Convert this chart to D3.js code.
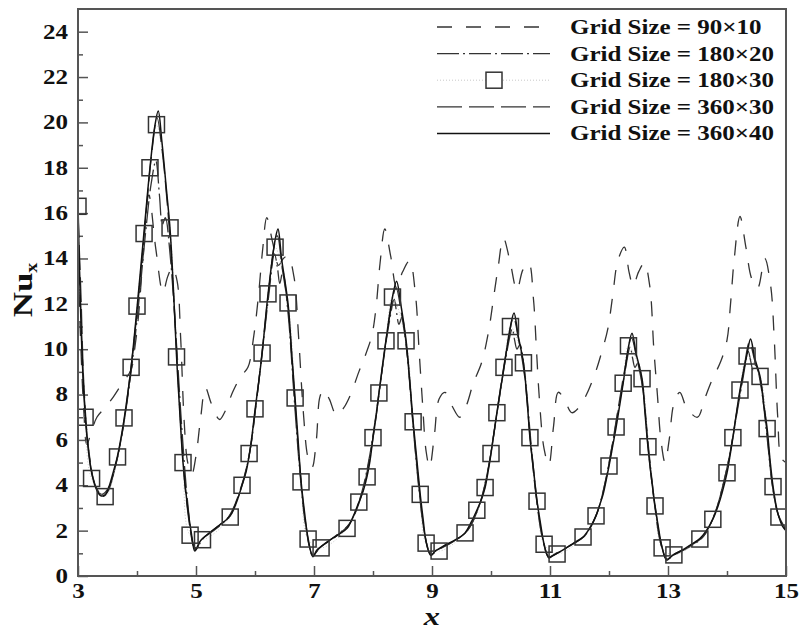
<!DOCTYPE html>
<html>
<head>
<meta charset="utf-8">
<script src="https://cdn.jsdelivr.net/npm/d3@7"></script>
<style>
  html, body { margin: 0; padding: 0; background: #fff; }
  svg { display: block; }
</style>
</head>
<body>
<svg id="chart" width="801" height="629"></svg>
<script>
// Local Nusselt number along the channel wall, five mesh resolutions.
// Each series: [x, Nu_x]

const seriesLabels = ["Grid Size = 90\u00d710", "Grid Size = 180\u00d720", "Grid Size = 180\u00d730",
                      "Grid Size = 360\u00d730", "Grid Size = 360\u00d740"];

const xMajorTicks = [3, 5, 7, 9, 11, 13, 15];
const xMinorTicks = [4, 6, 8, 10, 12, 14];
const yMajorTicks = [0, 2, 4, 6, 8, 10, 12, 14, 16, 18, 20, 22, 24];
const yMinorTicks = [1, 3, 5, 7, 9, 11, 13, 15, 17, 19, 21, 23];

const grid90x10 = [
  [3.00,13.8],[3.05,10.0],[3.10,7.2],[3.15,5.8],[3.22,6.3],[3.32,7.0],[3.45,7.4],[3.60,7.9],
  [3.75,8.5],[3.90,9.1],[3.97,10.2],[4.03,11.6],[4.10,14.0],[4.20,16.8],[4.32,14.4],[4.44,12.5],
  [4.52,13.2],[4.60,13.6],[4.68,13.0],[4.74,10.5],[4.80,6.8],[4.86,5.0],[4.93,4.5],
  [5.00,5.3],[5.08,7.0],[5.16,8.3],[5.26,7.6],[5.40,6.9],[5.50,7.3],[5.62,8.1],[5.76,8.8],
  [5.88,9.2],[5.98,10.6],[6.06,12.4],[6.13,14.4],[6.20,15.8],[6.30,14.7],[6.40,13.7],[6.48,14.0],
  [6.56,14.1],[6.66,13.2],[6.74,10.5],[6.82,7.2],[6.90,5.2],[6.97,4.8],
  [7.04,6.0],[7.10,7.9],[7.16,8.2],[7.26,7.8],[7.38,7.1],[7.50,7.4],[7.62,8.0],[7.76,9.0],
  [7.88,9.8],[7.98,10.6],[8.05,11.8],[8.12,13.8],[8.20,15.3],[8.30,14.1],[8.40,12.7],[8.50,13.4],
  [8.62,13.9],[8.72,12.4],[8.78,10.0],[8.84,7.6],[8.90,5.5],[8.96,4.8],
  [9.04,6.2],[9.12,7.8],[9.22,8.1],[9.34,7.5],[9.47,7.0],[9.58,7.5],[9.70,8.5],[9.84,9.4],
  [9.96,10.8],[10.04,12.2],[10.12,13.6],[10.21,14.9],[10.32,13.9],[10.44,12.6],[10.54,13.5],
  [10.64,13.8],[10.72,12.2],[10.77,10.0],[10.82,7.8],[10.90,5.6],[10.98,4.9],
  [11.06,6.6],[11.14,8.1],[11.24,7.8],[11.37,7.2],[11.48,7.4],[11.60,7.9],[11.76,8.9],[11.88,9.9],
  [11.98,10.9],[12.06,12.3],[12.15,13.9],[12.26,14.5],[12.34,13.4],[12.41,12.8],[12.50,13.4],
  [12.60,13.8],[12.69,12.8],[12.76,10.0],[12.82,8.0],[12.88,6.0],[12.95,5.0],
  [13.02,6.0],[13.10,7.6],[13.20,8.1],[13.32,7.4],[13.50,7.0],[13.62,7.8],[13.74,8.6],[13.90,9.5],
  [14.00,10.4],[14.06,12.0],[14.12,13.9],[14.22,15.85],[14.32,14.5],[14.42,13.1],[14.52,12.7],
  [14.64,14.0],[14.74,12.8],[14.80,10.5],[14.86,7.0],[14.92,5.2],[15.00,5.0]
];

const grid180x20 = [
  [3.00,15.2],[3.05,11.5],[3.10,8.2],[3.18,5.5],[3.28,4.1],[3.40,3.6],[3.52,3.9],[3.65,5.0],
  [3.78,6.8],[3.90,9.0],[4.02,11.8],[4.14,15.0],[4.24,17.3],[4.32,18.3],[4.38,16.8],[4.43,15.5],
  [4.48,15.8],[4.56,14.2],[4.66,10.6],[4.76,6.5],[4.86,3.2],[4.95,1.4],[5.00,1.2],
  [5.12,1.65],[5.35,2.1],[5.58,2.7],[5.78,4.0],[5.92,5.6],[6.02,7.6],[6.12,9.8],[6.23,12.3],
  [6.33,14.2],[6.38,13.6],[6.42,12.9],[6.47,13.4],[6.56,11.6],[6.66,8.0],[6.76,4.6],[6.86,2.2],[6.98,0.95],
  [7.12,1.3],[7.38,1.8],[7.60,2.3],[7.80,3.6],[7.95,5.4],[8.05,7.1],[8.15,9.0],[8.27,11.1],
  [8.36,12.2],[8.40,11.6],[8.44,11.1],[8.49,11.4],[8.58,9.7],[8.68,6.6],[8.78,3.8],[8.88,1.8],[8.98,1.0],
  [9.12,1.2],[9.38,1.55],[9.60,2.0],[9.80,3.1],[9.95,4.7],[10.05,6.3],[10.15,8.0],[10.27,9.9],
  [10.36,10.9],[10.40,10.4],[10.44,10.0],[10.49,10.2],[10.58,8.7],[10.68,5.8],[10.78,3.3],[10.88,1.6],[10.98,0.85],
  [11.12,1.0],[11.38,1.4],[11.60,1.8],[11.80,2.8],[11.95,4.3],[12.05,5.7],[12.15,7.2],[12.27,9.0],
  [12.36,10.1],[12.40,9.6],[12.44,9.2],[12.49,9.4],[12.58,8.1],[12.68,5.4],[12.78,3.1],[12.88,1.5],[12.98,0.75],
  [13.12,0.95],[13.38,1.3],[13.60,1.75],[13.80,2.8],[13.95,4.2],[14.05,5.4],[14.15,6.9],[14.27,8.7],
  [14.36,9.9],[14.40,9.5],[14.44,9.1],[14.49,9.3],[14.58,8.3],[14.68,6.1],[14.78,3.8],[14.88,2.6],[15.00,2.0]
];

const grid180x30 = [
  [3.00,16.3],[3.12,7.0],[3.23,4.3],[3.46,3.5],[3.67,5.25],[3.78,6.97],[3.90,9.2],[4.00,11.9],
  [4.12,15.1],[4.22,18.0],[4.33,19.9],[4.56,15.35],[4.67,9.66],[4.78,5.0],[4.90,1.8],
  [5.11,1.6],[5.58,2.6],[5.78,4.0],[5.90,5.4],[6.00,7.37],[6.12,9.83],[6.22,12.44],[6.34,14.5],
  [6.56,12.04],[6.68,7.85],[6.78,4.15],[6.90,1.63],
  [7.12,1.24],[7.56,2.1],[7.76,3.26],[7.90,4.37],[8.00,6.1],[8.10,8.07],[8.22,10.37],[8.33,12.3],
  [8.56,10.37],[8.68,6.8],[8.80,3.6],[8.90,1.45],
  [9.12,1.1],[9.56,1.9],[9.76,2.9],[9.90,3.9],[10.00,5.4],[10.10,7.2],[10.22,9.2],[10.33,11.0],
  [10.55,9.4],[10.66,6.1],[10.78,3.3],[10.90,1.4],
  [11.12,0.97],[11.56,1.72],[11.78,2.65],[12.00,4.85],[12.12,6.57],[12.24,8.5],[12.33,10.15],
  [12.56,8.7],[12.66,5.7],[12.78,3.09],[12.90,1.24],
  [13.10,0.93],[13.54,1.63],[13.76,2.5],[14.00,4.55],[14.10,6.1],[14.22,8.2],[14.34,9.7],
  [14.56,8.8],[14.68,6.5],[14.78,3.94],[14.88,2.6]
];

const grid360x30 = [
  [3.00,16.0],[3.05,12.4],[3.10,8.4],[3.18,5.6],[3.28,4.1],[3.40,3.5],[3.50,3.7],[3.62,4.7],
  [3.75,6.3],[3.88,8.8],[4.00,11.6],[4.12,15.0],[4.24,18.4],[4.34,20.2],[4.42,18.9],[4.52,16.2],
  [4.62,12.4],[4.72,7.6],[4.82,3.8],[4.92,1.8],[4.99,1.15],
  [5.10,1.6],[5.30,2.05],[5.55,2.6],[5.75,3.8],[5.90,5.3],[6.00,7.2],[6.10,9.4],[6.22,12.3],
  [6.33,14.6],[6.38,15.0],[6.46,13.6],[6.56,11.8],[6.66,8.3],[6.76,4.8],[6.86,2.3],[6.98,0.9],
  [7.10,1.25],[7.35,1.7],[7.60,2.3],[7.80,3.5],[7.95,5.3],[8.05,7.0],[8.15,9.0],[8.28,11.4],
  [8.39,12.7],[8.48,11.6],[8.58,9.8],[8.68,6.7],[8.78,3.9],[8.88,1.8],[8.98,0.95],
  [9.10,1.15],[9.35,1.5],[9.60,2.0],[9.80,3.1],[9.95,4.7],[10.05,6.3],[10.15,8.1],[10.28,10.2],
  [10.38,11.4],[10.47,10.4],[10.57,8.8],[10.67,5.9],[10.77,3.4],[10.87,1.7],[10.98,0.85],
  [11.10,1.0],[11.35,1.35],[11.60,1.8],[11.80,2.8],[11.95,4.3],[12.05,5.7],[12.15,7.3],[12.28,9.3],
  [12.38,10.5],[12.47,9.6],[12.57,8.3],[12.67,5.5],[12.77,3.2],[12.87,1.5],[12.98,0.75],
  [13.10,0.95],[13.35,1.3],[13.60,1.75],[13.80,2.8],[13.95,4.2],[14.05,5.4],[14.15,7.0],[14.28,9.0],
  [14.38,10.3],[14.47,9.5],[14.57,8.6],[14.67,6.5],[14.77,4.0],[14.87,2.7],[15.00,2.05]
];

const grid360x40 = [
  [3.00,16.4],[3.03,13.0],[3.06,10.4],[3.10,8.0],[3.15,6.2],[3.22,4.7],[3.30,3.9],[3.38,3.55],
  [3.45,3.55],[3.52,3.9],[3.60,4.6],[3.67,5.3],[3.75,6.4],[3.82,7.6],[3.90,9.2],[4.00,11.8],
  [4.12,15.2],[4.22,18.0],[4.30,19.8],[4.36,20.5],[4.42,19.2],[4.50,17.0],[4.56,15.3],[4.62,12.5],
  [4.67,9.7],[4.73,7.0],[4.78,5.0],[4.85,3.2],[4.92,1.9],[4.98,1.1],
  [5.05,1.45],[5.11,1.65],[5.25,1.95],[5.40,2.25],[5.58,2.65],[5.70,3.35],[5.78,4.0],[5.85,4.6],
  [5.90,5.3],[5.95,6.2],[6.00,7.3],[6.06,8.5],[6.12,9.8],[6.22,12.4],[6.34,14.8],[6.39,15.3],
  [6.45,14.0],[6.56,12.0],[6.62,9.9],[6.68,7.8],[6.73,6.0],[6.78,4.2],[6.84,2.8],[6.90,1.65],[6.98,0.85],
  [7.05,1.15],[7.12,1.3],[7.25,1.55],[7.40,1.8],[7.56,2.1],[7.66,2.6],[7.76,3.25],[7.84,3.8],
  [7.90,4.4],[7.95,5.1],[8.00,6.1],[8.05,7.0],[8.10,8.05],[8.22,10.4],[8.33,12.3],[8.40,13.0],
  [8.47,12.0],[8.56,10.4],[8.62,8.7],[8.68,6.8],[8.74,5.2],[8.80,3.6],[8.85,2.5],[8.90,1.5],[8.98,0.9],
  [9.05,1.1],[9.12,1.2],[9.25,1.4],[9.40,1.6],[9.56,1.9],[9.66,2.35],[9.76,2.9],[9.84,3.4],
  [9.90,3.9],[9.95,4.6],[10.00,5.4],[10.05,6.3],[10.10,7.2],[10.22,9.2],[10.33,11.0],[10.39,11.6],
  [10.46,10.6],[10.55,9.4],[10.61,7.8],[10.66,6.1],[10.72,4.7],[10.78,3.3],[10.84,2.3],[10.90,1.4],[10.98,0.8],
  [11.05,0.9],[11.12,1.0],[11.25,1.2],[11.40,1.45],[11.56,1.72],[11.67,2.1],[11.78,2.65],[11.85,3.2],
  [11.90,3.6],[11.95,4.2],[12.00,4.85],[12.06,5.7],[12.12,6.55],[12.24,8.5],[12.33,10.1],[12.39,10.7],
  [12.46,9.8],[12.56,8.7],[12.61,7.2],[12.66,5.7],[12.72,4.3],[12.78,3.1],[12.84,2.1],[12.90,1.25],[12.98,0.7],
  [13.05,0.85],[13.10,0.95],[13.25,1.15],[13.40,1.4],[13.54,1.65],[13.65,2.0],[13.76,2.5],[13.85,3.1],
  [13.92,3.7],[14.00,4.55],[14.05,5.3],[14.10,6.1],[14.22,8.2],[14.34,9.8],[14.40,10.45],[14.47,9.6],
  [14.56,8.8],[14.62,7.6],[14.68,6.5],[14.73,5.1],[14.78,3.95],[14.84,3.0],[14.88,2.6],[14.94,2.2],[15.00,2.0]
];

// ---- layout ----
const svg = d3.select("#chart");
const plot = { left: 78, right: 786, top: 9, bottom: 576 };
const x = d3.scaleLinear().domain([3, 15]).range([plot.left, plot.right]);
const y = d3.scaleLinear().domain([0, 25]).range([plot.bottom, plot.top]);

const serif = "'Liberation Serif', 'Times New Roman', serif";
const stretch = "scale(1.25,1)";   // wide lettering used throughout
const frameColor = "#555";

svg.append("defs").append("clipPath").attr("id", "plotClip")
  .append("rect")
  .attr("x", plot.left).attr("y", plot.top)
  .attr("width", plot.right - plot.left).attr("height", plot.bottom - plot.top);

// ---- axes ----
function styleAxis(g) {
  g.select(".domain").remove();
  g.selectAll(".tick line").attr("stroke", frameColor).attr("stroke-width", 1.5);
  g.selectAll(".tick text")
    .attr("font-family", serif).attr("font-weight", "bold")
    .attr("font-size", 20).attr("fill", "#111");
}

const yAxis = svg.append("g").attr("transform", `translate(${plot.left},0)`)
  .call(d3.axisLeft(y).tickValues(yMajorTicks).tickSizeInner(-10).tickSizeOuter(0).tickPadding(8).tickFormat(d3.format("d")))
  .call(styleAxis);
yAxis.selectAll(".tick text").attr("transform", stretch);

svg.append("g").attr("transform", `translate(${plot.left},0)`)
  .call(d3.axisLeft(y).tickValues(yMinorTicks).tickSizeInner(-5).tickSizeOuter(0).tickFormat(""))
  .call(styleAxis);

const xAxis = svg.append("g").attr("transform", `translate(0,${plot.bottom})`)
  .call(d3.axisBottom(x).tickValues(xMajorTicks).tickSizeInner(-10).tickSizeOuter(0).tickPadding(8).tickFormat(d3.format("d")))
  .call(styleAxis);
xAxis.selectAll(".tick text").attr("transform", stretch);

svg.append("g").attr("transform", `translate(0,${plot.bottom})`)
  .call(d3.axisBottom(x).tickValues(xMinorTicks).tickSizeInner(-5).tickSizeOuter(0).tickFormat(""))
  .call(styleAxis);

// ---- curves ----
const line = d3.line().x(d => x(d[0])).y(d => y(d[1])).curve(d3.curveCatmullRom.alpha(0.5));
const curves = svg.append("g").attr("clip-path", "url(#plotClip)");

const styles = [
  { data: grid90x10,  stroke: "#333", width: 1.3, dash: "15,14" },
  { data: grid180x20, stroke: "#333", width: 1.3, dash: "22,4,2,4" },
  { data: grid180x30, stroke: "#c8c8c8", width: 1.0, dash: "1,2" },
  { data: grid360x30, stroke: "#333", width: 1.3, dash: "25,7" },
  { data: grid360x40, stroke: "#111", width: 1.5, dash: null }
];

styles.forEach(s => {
  curves.append("path").datum(s.data)
    .attr("d", line).attr("fill", "none")
    .attr("stroke", s.stroke).attr("stroke-width", s.width)
    .attr("stroke-dasharray", s.dash);
});

// square symbols for the 180x30 mesh
const box = 16;
curves.append("g").selectAll("rect").data(grid180x30).join("rect")
  .attr("x", d => x(d[0]) - box / 2).attr("y", d => y(d[1]) - box / 2)
  .attr("width", box).attr("height", box)
  .attr("fill", "none").attr("stroke", "#333").attr("stroke-width", 1.5);

// ---- frame ----
svg.append("rect")
  .attr("x", plot.left).attr("y", plot.top)
  .attr("width", plot.right - plot.left).attr("height", plot.bottom - plot.top)
  .attr("fill", "none").attr("stroke", frameColor).attr("stroke-width", 2);

// ---- legend ----
const legend = svg.append("g");
const legX0 = 437, legX1 = 550, legTextX = 570, legY0 = 27, legStep = 26.6;
seriesLabels.forEach((label, i) => {
  const s = styles[i];
  const ly = legY0 + i * legStep;
  legend.append("line")
    .attr("x1", legX0).attr("x2", legX1).attr("y1", ly).attr("y2", ly)
    .attr("stroke", s.stroke).attr("stroke-width", s.width)
    .attr("stroke-dasharray", s.dash);
  if (i === 2) {
    const cx = (legX0 + legX1) / 2 + 0.5;
    legend.append("rect")
      .attr("x", cx - box / 2).attr("y", ly - box / 2)
      .attr("width", box).attr("height", box)
      .attr("fill", "#fff").attr("stroke", "#333").attr("stroke-width", 1.5);
  }
  legend.append("text")
    .attr("transform", `translate(${legTextX},${ly + 7}) ${stretch}`)
    .attr("font-family", serif).attr("font-weight", "bold")
    .attr("font-size", 20).attr("fill", "#111")
    .text(label);
});

// ---- axis titles ----
svg.append("text")
  .attr("transform", `translate(${x(9)},625) ${stretch}`)
  .attr("text-anchor", "middle")
  .attr("font-family", serif).attr("font-weight", "bold").attr("font-style", "italic")
  .attr("font-size", 26).attr("fill", "#111")
  .text("x");

const yTitle = svg.append("text")
  .attr("transform", `translate(32,290) rotate(-90) ${stretch}`)
  .attr("text-anchor", "middle")
  .attr("font-family", serif).attr("font-weight", "bold")
  .attr("font-size", 28).attr("fill", "#111");
yTitle.append("tspan").text("Nu");
yTitle.append("tspan").attr("font-size", 16).attr("dy", 5).text("x");
</script>
</body>
</html>
